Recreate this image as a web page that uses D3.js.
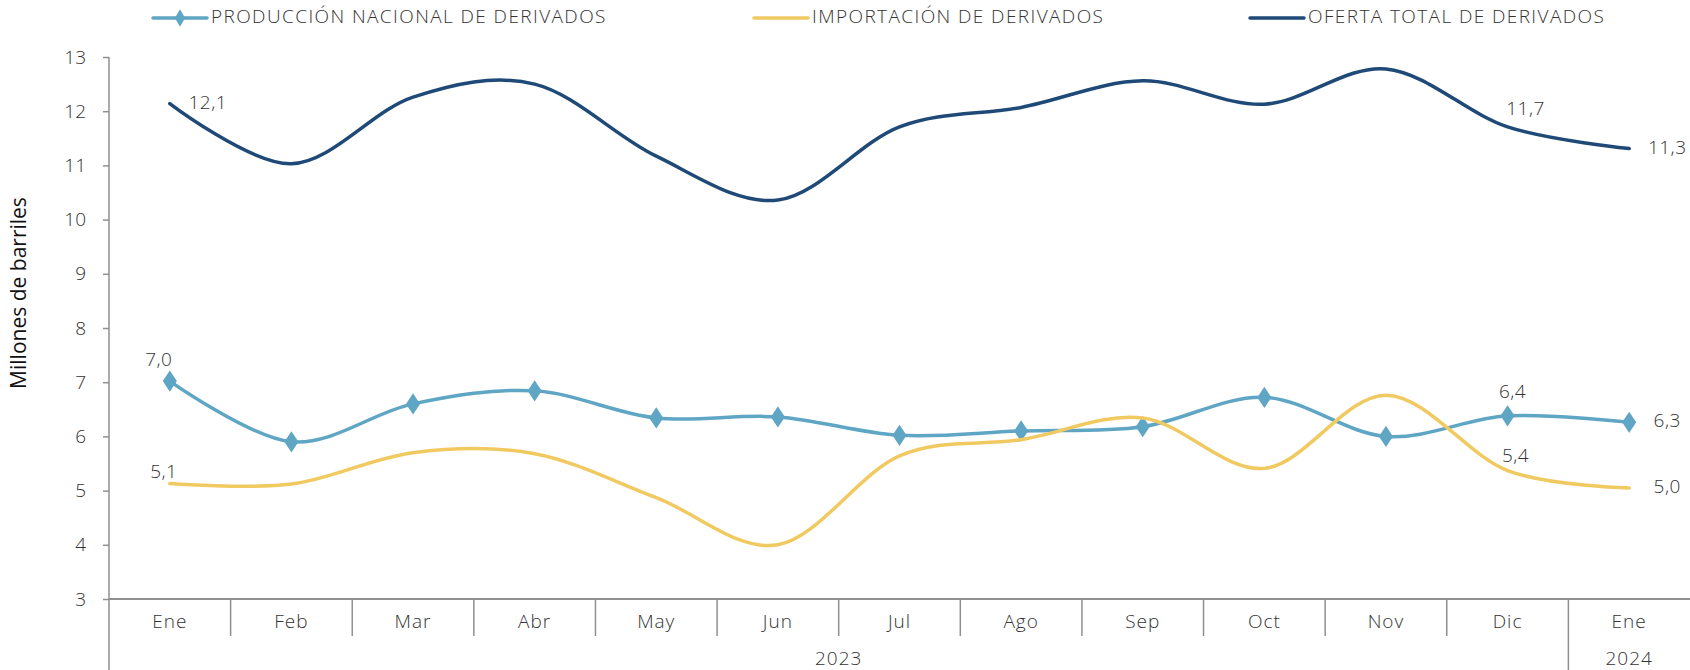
<!DOCTYPE html>
<html>
<head>
<meta charset="utf-8">
<script src="https://cdn.jsdelivr.net/npm/d3@7"></script>
<style>
  body { margin: 0; background: #fff; }
  svg { display: block; font-family: "Open Sans", "Noto Sans", sans-serif; font-weight: 300; }
</style>
</head>
<body>
<div id="chart"></div>
<script>
var months = ['Ene','Feb','Mar','Abr','May','Jun','Jul','Ago','Sep','Oct','Nov','Dic','Ene']
var years = [{label: '2023', from: 0, to: 11}, {label: '2024', from: 12, to: 12}]

var produccion = [7.02, 5.90, 6.60, 6.84, 6.34, 6.36, 6.02, 6.10, 6.18, 6.72, 6.00, 6.38, 6.26]
var importacion = [5.13, 5.12, 5.70, 5.68, 4.87, 4.00, 5.64, 5.94, 6.34, 5.41, 6.76, 5.37, 5.05]
var oferta = [12.14, 11.03, 12.26, 12.50, 11.17, 10.36, 11.71, 12.07, 12.56, 12.13, 12.78, 11.71, 11.31]

var yTicks = [3,4,5,6,7,8,9,10,11,12,13]

var series = [
  {name: 'PRODUCCIÓN NACIONAL DE DERIVADOS', values: produccion, color: '#5fa5c4', marker: true},
  {name: 'IMPORTACIÓN DE DERIVADOS', values: importacion, color: '#f0ca61', marker: false},
  {name: 'OFERTA TOTAL DE DERIVADOS', values: oferta, color: '#1f4a78', marker: false}
]

// which points get a value label, and where
var labels = [
  {s: 2, i: 0, pos: 'right'}, {s: 2, i: 11, pos: 'above'}, {s: 2, i: 12, pos: 'right'},
  {s: 0, i: 0, pos: 'aboveleft'}, {s: 0, i: 11, pos: 'above'}, {s: 0, i: 12, pos: 'right'},
  {s: 1, i: 0, pos: 'left'}, {s: 1, i: 11, pos: 'above'}, {s: 1, i: 12, pos: 'right'}
]

var W = 1690, H = 670
var margin = {left: 109, right: 0, top: 57, bottom: 71}

var svg = d3.select('#chart').append('svg')
  .attr('width', W)
  .attr('height', H)

var x = d3.scaleBand().domain(d3.range(months.length)).range([margin.left, W - margin.right])
var y = d3.scaleLinear().domain([3, 13]).range([H - margin.bottom, margin.top])

var axisColor = '#8f8f8f'
var textColor = '#333'
var fs = '19px'
var ls = '1px'

// y axis
var yAxis = svg.append('g')
  .attr('transform', 'translate(' + margin.left + ',0)')
  .call(d3.axisLeft(y).tickValues(yTicks).tickSize(6).tickPadding(17).tickFormat(d3.format('d')))
yAxis.attr('font-family', null).attr('font-size', null)
yAxis.select('.domain').remove()
yAxis.selectAll('line').attr('stroke', axisColor).attr('stroke-width', 1.5)
yAxis.selectAll('text').attr('fill', textColor).style('font-size', fs)
svg.append('line')
  .attr('x1', margin.left).attr('x2', margin.left)
  .attr('y1', y(13)).attr('y2', H)
  .attr('stroke', axisColor).attr('stroke-width', 1.5)

svg.append('text')
  .attr('transform', 'translate(20,' + 293 + ') rotate(-90)')
  .attr('text-anchor', 'middle')
  .attr('dominant-baseline', 'middle')
  .attr('fill', '#111')
  .style('font-size', '21px')
  .style('font-weight', 500)
  .text('Millones de barriles')

// x axis: baseline, separators, month labels, year labels
var base = y(3)
svg.append('line')
  .attr('x1', margin.left).attr('x2', W)
  .attr('y1', base).attr('y2', base)
  .attr('stroke', axisColor).attr('stroke-width', 2)

var step = x.step()
d3.range(1, months.length).forEach(function(k){
  var xx = margin.left + k * step
  var isYear = years.some(function(g){ return g.from === k })
  svg.append('line')
    .attr('x1', xx).attr('x2', xx)
    .attr('y1', base).attr('y2', isYear ? H : base + 37)
    .attr('stroke', axisColor).attr('stroke-width', 1.5)
})

svg.selectAll('text.month').data(months).enter().append('text')
  .attr('class', 'month')
  .attr('x', function(d, i){ return x(i) + x.bandwidth() / 2 })
  .attr('y', base + 24)
  .attr('text-anchor', 'middle')
  .attr('dominant-baseline', 'middle')
  .attr('fill', textColor)
  .style('font-size', fs).style('letter-spacing', ls)
  .text(function(d){ return d })

svg.selectAll('text.year').data(years).enter().append('text')
  .attr('class', 'year')
  .attr('x', function(g){ return (x(g.from) + x(g.to) + step) / 2 })
  .attr('y', base + 61)
  .attr('text-anchor', 'middle')
  .attr('dominant-baseline', 'middle')
  .attr('fill', textColor)
  .style('font-size', fs).style('letter-spacing', ls)
  .text(function(g){ return g.label })

// lines
var cx = function(i){ return x(i) + x.bandwidth() / 2 }
var line = d3.line()
  .x(function(d, i){ return cx(i) })
  .y(function(d){ return y(d) })
  .curve(d3.curveCatmullRom.alpha(0))

var diamond = d3.symbol().type(d3.symbolDiamond).size(130)

series.forEach(function(s){
  svg.append('path')
    .attr('d', line(s.values))
    .attr('fill', 'none')
    .attr('stroke', s.color)
    .attr('stroke-width', 3.5)
    .attr('stroke-linecap', 'round')
  if(s.marker){
    svg.selectAll(null).data(s.values).enter().append('path')
      .attr('d', diamond)
      .attr('transform', function(d, i){ return 'translate(' + cx(i) + ',' + y(d) + ') scale(1.15,1)' })
      .attr('fill', s.color)
  }
})

// value labels
var fmt = function(v){ return d3.format('.1f')(v).replace('.', ',') }
var offsets = {
  right: [38, 0], above: [12, -20], aboveleft: [-11, -20], left: [-6, -11]
}
labels.forEach(function(l){
  var v = series[l.s].values[l.i]
  var o = offsets[l.pos]
  if(l.s === 0 && l.pos === 'above') o = [5, -23]
  if(l.s === 1 && l.pos === 'above') o = [8, -14]
  if(l.s === 2 && l.pos === 'above') o = [18, -17]
  svg.append('text')
    .attr('x', cx(l.i) + o[0])
    .attr('y', y(v) + o[1])
    .attr('text-anchor', 'middle')
    .attr('dominant-baseline', 'middle')
    .attr('fill', textColor)
    .style('font-size', fs).style('letter-spacing', '0.5px')
    .text(fmt(v))
})

// legend
var legendItems = [
  {x: 153, s: series[0]},
  {x: 754, s: series[1]},
  {x: 1250, s: series[2]}
]
legendItems.forEach(function(it){
  var g = svg.append('g').attr('transform', 'translate(' + it.x + ',18)')
  g.append('line')
    .attr('x1', 0).attr('x2', 54)
    .attr('stroke', it.s.color).attr('stroke-width', 3.5)
    .attr('stroke-linecap', 'round')
  if(it.s.marker){
    g.append('path').attr('d', d3.symbol().type(d3.symbolDiamond).size(90))
      .attr('transform', 'translate(27,0)')
      .attr('fill', it.s.color)
  }
  g.append('text')
    .attr('x', 58)
    .attr('dominant-baseline', 'middle')
    .attr('fill', textColor)
    .style('font-size', fs).style('letter-spacing', '1.4px')
    .text(it.s.name)
})
</script>
</body>
</html>
